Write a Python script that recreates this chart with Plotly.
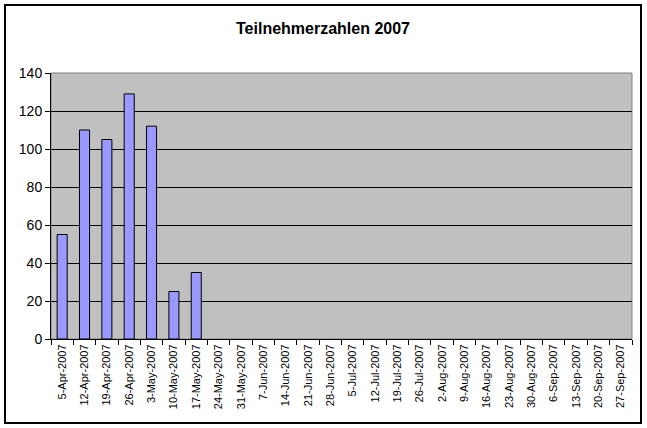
import plotly.graph_objects as go

categories = ["5-Apr-2007", "12-Apr-2007", "19-Apr-2007", "26-Apr-2007", "3-May-2007",
              "10-May-2007", "17-May-2007", "24-May-2007", "31-May-2007", "7-Jun-2007",
              "14-Jun-2007", "21-Jun-2007", "28-Jun-2007", "5-Jul-2007", "12-Jul-2007",
              "19-Jul-2007", "26-Jul-2007", "2-Aug-2007", "9-Aug-2007", "16-Aug-2007",
              "23-Aug-2007", "30-Aug-2007", "6-Sep-2007", "13-Sep-2007", "20-Sep-2007",
              "27-Sep-2007"]
values = [55, 110, 105, 129, 112, 25, 35] + [None] * 19
y_ticks = [0, 20, 40, 60, 80, 100, 120, 140]

W, H = 647, 428
L, R, T, B = 51, 15, 73, 89
pw, ph = W - L - R, H - T - B

fig = go.Figure(go.Bar(
    x=categories, y=values,
    marker=dict(color="#9999FF", line=dict(color="black", width=1)),
))

fig.update_layout(
    width=W, height=H,
    margin=dict(l=L, r=R, t=T, b=B, pad=0),
    paper_bgcolor="white",
    plot_bgcolor="#C0C0C0",
    bargap=0.55,
    showlegend=False,
    font=dict(family="Liberation Sans, Arial, sans-serif", color="black"),
    title=dict(text="<b>Teilnehmerzahlen 2007</b>", x=323 / W, xref="container", xanchor="center",
               y=1 - 28 / H, yanchor="middle", automargin=False,
               font=dict(size=16, color="black")),
)

fig.update_xaxes(
    type="category", categoryorder="array", categoryarray=categories,
    tickangle=-90, tickfont=dict(size=11),
    ticks="outside", ticklen=5, tickcolor="black", tickson="boundaries",
    showline=True, linecolor="black", linewidth=1, mirror=False,
    showgrid=False, automargin=False,
)
fig.update_yaxes(
    range=[0, 140], tickvals=y_ticks, tickfont=dict(size=14),
    ticks="outside", ticklen=5, tickcolor="black",
    showline=True, linecolor="black", linewidth=1,
    showgrid=True, gridcolor="black", gridwidth=1,
    zeroline=False, automargin=False,
)

# plot area border (gray)
fig.add_shape(type="rect", xref="paper", yref="paper", x0=0, x1=1, y0=0, y1=1,
              line=dict(color="#808080", width=1), layer="below")
# outer chart border
fig.add_shape(type="rect", xref="paper", yref="paper",
              x0=(5 - L) / pw, x1=(641 - L) / pw,
              y0=((H - B) - 423) / ph, y1=((H - B) - 5) / ph,
              line=dict(color="black", width=2))

fig.write_html("out.html", config={"displayModeBar": False},
               post_script="document.body.style.margin='0';document.body.style.overflow='hidden';")
